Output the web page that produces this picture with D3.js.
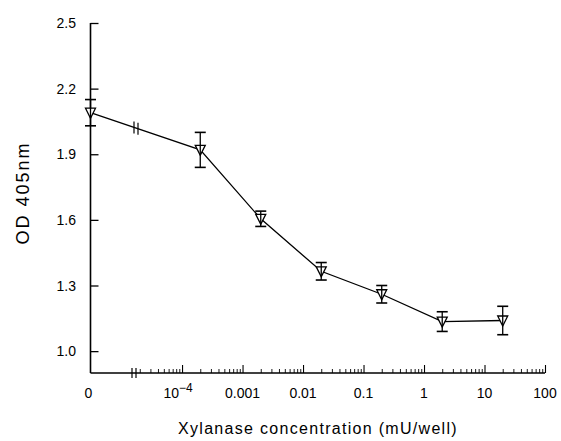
<!DOCTYPE html>
<html>
<head>
<meta charset="utf-8">
<script src="https://cdn.jsdelivr.net/npm/d3@7"></script>
<style>
  body { margin: 0; background: #fff; }
  svg { display: block; }
  text { font-family: "Liberation Sans", Arial, Helvetica, sans-serif; fill: #000; }
</style>
</head>
<body>
<svg id="chart" width="561" height="441"></svg>
<script>
// ---- data ----
const concentrations = [0, 2e-4, 2e-3, 2e-2, 0.2, 2, 20];   // mU/well
const odValues       = [2.09, 1.92, 1.605, 1.365, 1.26, 1.135, 1.14];
const odErrors       = [0.06, 0.08, 0.035, 0.04, 0.04, 0.045, 0.065];
const yTickValues    = [1.0, 1.3, 1.6, 1.9, 2.2, 2.5];
const xTickValues    = [1e-4, 1e-3, 1e-2, 1e-1, 1, 10, 100];
const xTickLabels    = ["10^-4", "0.001", "0.01", "0.1", "1", "10", "100"];
const zeroLabel      = "0";

// ---- layout ----
const svg = d3.select("#chart");
const axisX0 = 90.5, axisY0 = 373, axisTop = 23, axisRight = 545;
const logStart = 137;

const y = d3.scaleLinear().domain([0.9, 2.5]).range([axisY0, axisTop]);
const xLog = d3.scaleLog().domain([1.8e-5, 100]).range([logStart, axisRight]);
const xPos = c => c === 0 ? axisX0 : xLog(c);

const g = svg.append("g");

// y axis
g.append("line").attr("x1", axisX0).attr("x2", axisX0).attr("y1", axisTop).attr("y2", axisY0)
  .attr("stroke", "#000").attr("stroke-width", 1.6);
const yAxis = d3.axisRight(y).tickValues(yTickValues).tickSize(8).tickFormat("");
const yAx = g.append("g").attr("transform", `translate(${axisX0},0)`).call(yAxis);
yAx.select(".domain").remove();
yAx.selectAll(".tick line").attr("stroke-width", 1.3);
g.selectAll(".ylab").data(yTickValues).enter().append("text")
  .attr("x", 76).attr("y", d => y(d) + 5)
  .attr("text-anchor", "end").attr("font-size", 14)
  .text(d => d3.format(".1f")(d));

// x axis line
g.append("line").attr("x1", axisX0).attr("x2", axisRight).attr("y1", axisY0).attr("y2", axisY0)
  .attr("stroke", "#000").attr("stroke-width", 1.6);
// break marks on axis
[132, 136].forEach(bx => {
  g.append("line").attr("x1", bx).attr("x2", bx).attr("y1", axisY0 - 5).attr("y2", axisY0 + 5)
    .attr("stroke", "#000").attr("stroke-width", 1.2);
});

// major x ticks
const xAxis = d3.axisTop(xLog).tickValues(xTickValues).tickSize(8).tickFormat("");
const xAx = g.append("g").attr("transform", `translate(0,${axisY0})`).call(xAxis);
xAx.select(".domain").remove();
xAx.selectAll(".tick line").attr("stroke-width", 1.1);

// minor x ticks
const minorTicks = [];
for (let e = -5; e <= 1; e++) {
  for (let m = 2; m <= 9; m++) {
    const v = m * Math.pow(10, e);
    if (v >= xLog.domain()[0] && v <= 100) minorTicks.push(v);
  }
}
const xMinor = d3.axisTop(xLog).tickValues(minorTicks).tickSize(4).tickFormat("");
const xMi = g.append("g").attr("transform", `translate(0,${axisY0})`).call(xMinor);
xMi.select(".domain").remove();
xMi.selectAll(".tick line").attr("stroke-width", 0.9);

// x tick labels
const xl = g.selectAll(".xlab").data(xTickValues).enter().append("text")
  .attr("x", d => xLog(d)).attr("y", 398)
  .attr("text-anchor", "middle").attr("font-size", 14);
xl.each(function(d, i) {
  const lab = xTickLabels[i];
  const t = d3.select(this);
  if (lab.indexOf("^") >= 0) {
    const [base, ex] = lab.split("^");
    t.attr("x", xLog(d) - 4);
    t.append("tspan").text(base);
    t.append("tspan").attr("dy", -6).attr("font-size", 12).text(ex.replace("-", "\u2212"));
  } else {
    t.text(lab);
  }
});
g.append("text").attr("x", axisX0 - 2).attr("y", 398).attr("text-anchor", "middle")
  .attr("font-size", 14).text(zeroLabel);

// axis titles
g.append("text").attr("x", 318).attr("y", 434).attr("text-anchor", "middle")
  .attr("font-size", 16).attr("letter-spacing", 1.3)
  .text("Xylanase concentration (mU/well)");
g.append("text").attr("transform", `translate(29,193) rotate(-90)`)
  .attr("text-anchor", "middle").attr("font-size", 18).attr("letter-spacing", 2)
  .text("OD  405nm");

// data line
const pts = concentrations.map((c, i) => [xPos(c), y(odValues[i])]);
g.append("path").attr("d", d3.line()(pts)).attr("fill", "none")
  .attr("stroke", "#000").attr("stroke-width", 1.3);

// break marks on the data line between first two points
[134, 138].forEach(bx => {
  const t = (bx - pts[0][0]) / (pts[1][0] - pts[0][0]);
  const by = pts[0][1] + t * (pts[1][1] - pts[0][1]);
  g.append("line").attr("x1", bx).attr("x2", bx).attr("y1", by - 6).attr("y2", by + 6)
    .attr("stroke", "#000").attr("stroke-width", 1.2);
});

// markers
const tri = "M-5,-4.5L5,-4.5L0,5.5Z";
concentrations.forEach((c, i) => {
  const px = xPos(c), py = y(odValues[i]);
  g.append("path").attr("d", tri).attr("transform", `translate(${px},${py})`)
    .attr("fill", "#fff").attr("stroke", "#000").attr("stroke-width", 1.3);
  const yt = y(odValues[i] + odErrors[i]), yb = y(odValues[i] - odErrors[i]);
  g.append("line").attr("x1", px).attr("x2", px).attr("y1", yt).attr("y2", yb)
    .attr("stroke", "#000").attr("stroke-width", 1.3);
  [yt, yb].forEach(cy => {
    g.append("line").attr("x1", px - 5.5).attr("x2", px + 5.5).attr("y1", cy).attr("y2", cy)
      .attr("stroke", "#000").attr("stroke-width", 1.6);
  });
});
</script>
</body>
</html>
